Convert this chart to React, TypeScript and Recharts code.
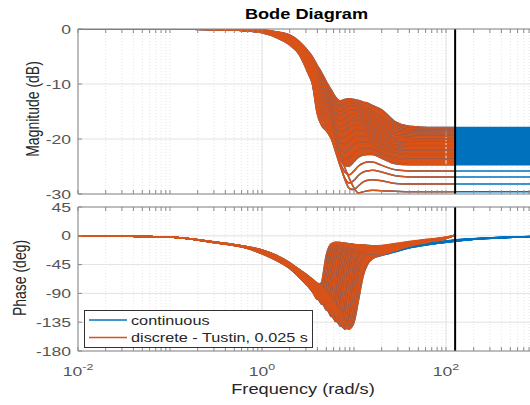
import React from 'react';
import { ComposedChart, Line, Area, XAxis, YAxis, CartesianGrid, ReferenceLine, Legend } from 'recharts';

// frequency grid in rad/s (shared by every curve)
const FREQ = [0.01, 0.0316, 0.1, 0.316, 0.631, 1, 1.41, 2, 2.51, 3.16, 3.55, 3.98, 4.47, 5.01, 5.62, 6.31, 7.08, 7.94, 8.91, 10, 11.2, 12.6, 14.1, 15.8, 20, 28.2, 39.8, 63.1, 100, 125.66, 200, 398, 1000];
const NYQUIST = 125.66; // pi / 0.025

// magnitude (dB), one row per model of the family
const MAG_CURVES = [
  [0, 0, 0, -0.05, -0.1, -0.2, -0.5, -1.1, -2.2, -4.0, -5.1, -6.6, -8.0, -9.6, -11.0, -12.4, -13.1, -12.8, -12.7, -12.8, -13.0, -13.3, -13.5, -13.9, -14.7, -16.9, -17.7, -17.9, -17.9, -17.9, -17.9, -17.9, -17.9],
  [0, 0, 0, -0.05, -0.1, -0.2, -0.55, -1.2, -2.4, -4.3, -5.5, -7.2, -8.8, -10.5, -12.0, -13.4, -14.0, -13.6, -13.3, -13.4, -13.7, -14.1, -14.5, -15.0, -16.1, -17.5, -18.1, -18.2, -18.2, -18.2, -18.2, -18.2, -18.2],
  [0, 0, 0, -0.05, -0.15, -0.25, -0.6, -1.3, -2.6, -4.6, -5.9, -7.8, -9.5, -11.3, -12.9, -14.3, -14.9, -14.4, -14.0, -14.0, -14.3, -14.8, -15.3, -15.9, -17.0, -18.1, -18.5, -18.6, -18.6, -18.6, -18.6, -18.6, -18.6],
  [0, 0, 0, -0.05, -0.15, -0.3, -0.7, -1.45, -2.8, -4.9, -6.3, -8.4, -10.2, -12.1, -13.8, -15.2, -15.8, -15.3, -14.8, -14.7, -15.0, -15.5, -16.1, -16.7, -17.8, -18.7, -18.9, -19.0, -19.0, -19.0, -19.0, -19.0, -19.0],
  [0, 0, 0, -0.05, -0.15, -0.3, -0.75, -1.55, -3.0, -5.2, -6.7, -9.0, -10.9, -12.9, -14.7, -16.1, -16.8, -16.3, -15.7, -15.5, -15.7, -16.2, -16.8, -17.4, -18.5, -19.2, -19.4, -19.5, -19.5, -19.5, -19.5, -19.5, -19.5],
  [0, 0, 0, -0.05, -0.15, -0.35, -0.8, -1.7, -3.1, -5.5, -7.1, -9.6, -11.6, -13.7, -15.6, -17.1, -17.8, -17.4, -16.7, -16.4, -16.5, -16.9, -17.4, -18.0, -19.1, -19.8, -19.9, -20.0, -20.0, -20.0, -20.0, -20.0, -20.0],
  [0, 0, 0, -0.05, -0.2, -0.35, -0.85, -1.8, -3.3, -5.8, -7.5, -10.2, -12.3, -14.4, -16.4, -18.0, -18.8, -18.5, -17.8, -17.4, -17.4, -17.7, -18.2, -18.7, -19.8, -20.4, -20.6, -20.6, -20.6, -20.6, -20.6, -20.6, -20.6],
  [0, 0, 0, -0.05, -0.2, -0.4, -0.9, -1.95, -3.5, -6.1, -7.9, -10.8, -13.0, -15.0, -17.1, -18.9, -19.8, -19.7, -19.0, -18.5, -18.3, -18.5, -18.9, -19.4, -20.5, -21.1, -21.3, -21.3, -21.3, -21.3, -21.3, -21.3, -21.3],
  [0, 0, 0, -0.05, -0.2, -0.4, -1.0, -2.1, -3.6, -6.3, -8.3, -11.4, -13.7, -15.6, -17.7, -19.7, -20.8, -21.0, -20.4, -19.7, -19.4, -19.4, -19.7, -20.1, -21.1, -21.8, -22.0, -22.0, -22.0, -22.0, -22.0, -22.0, -22.0],
  [0, 0, 0, -0.1, -0.2, -0.45, -1.05, -2.2, -3.8, -6.6, -8.7, -12.0, -14.4, -16.2, -18.3, -20.5, -21.9, -22.3, -21.8, -21.0, -20.6, -20.5, -20.6, -20.9, -21.8, -22.6, -22.8, -22.8, -22.8, -22.8, -22.8, -22.8, -22.8],
  [0, 0, 0, -0.1, -0.25, -0.5, -1.1, -2.35, -3.9, -6.8, -9.0, -12.6, -15.0, -16.7, -18.8, -21.2, -22.9, -23.6, -23.3, -22.5, -21.9, -21.6, -21.6, -21.8, -22.6, -23.5, -23.7, -23.7, -23.7, -23.7, -23.7, -23.7, -23.7],
  [0, 0, 0, -0.1, -0.25, -0.55, -1.2, -2.45, -4.0, -7.1, -9.3, -13.2, -15.7, -17.1, -19.2, -21.6, -23.6, -24.8, -24.9, -24.1, -23.3, -22.9, -22.8, -22.8, -23.5, -24.5, -24.7, -24.7, -24.7, -24.7, -24.7, -24.7, -24.7],
  [0, 0, 0, -0.1, -0.25, -0.6, -1.3, -2.6, -4.2, -7.4, -9.6, -13.8, -16.3, -17.5, -19.5, -22.0, -24.3, -26.0, -26.5, -25.8, -24.9, -24.4, -24.2, -24.2, -24.8, -25.6, -25.8, -25.8, -25.8, -25.8, -25.8, -25.8, -25.8],
  [0, 0, 0, -0.1, -0.3, -0.6, -1.35, -2.7, -4.3, -7.6, -9.8, -14.4, -16.9, -17.9, -19.7, -22.3, -24.9, -27.1, -28.0, -27.5, -26.6, -26.0, -25.8, -25.7, -26.0, -26.7, -26.9, -26.9, -26.9, -26.9, -26.9, -26.9, -26.9],
  [0, 0, 0, -0.1, -0.3, -0.65, -1.4, -2.8, -4.4, -7.8, -10.0, -14.9, -17.3, -18.2, -19.8, -22.0, -24.6, -27.3, -29.0, -29.2, -28.5, -27.8, -27.5, -27.4, -27.6, -28.1, -28.2, -28.2, -28.2, -28.2, -28.2, -28.2, -28.2],
  [0, 0, 0, -0.1, -0.3, -0.7, -1.5, -2.9, -4.5, -8.0, -10.2, -15.4, -17.6, -18.5, -19.8, -21.6, -23.3, -25.2, -27.2, -28.9, -29.8, -29.6, -29.4, -29.3, -29.4, -29.5, -29.6, -29.6, -29.6, -29.6, -29.6, -29.6, -29.6],
];
// the upper models sit so close together that they read as one solid band
const MAG_DENSE = 12;

// phase (deg) of the continuous models
const PHASE_CURVES = [
  [0, -0.5, -2, -11, -18, -28, -38, -51, -64, -79, -88, -97, -72, -30, -13, -10, -10.5, -11.5, -12.5, -13.5, -14, -14.5, -15, -15.5, -16, -14, -12, -10, -8, -6.5, -4.5, -2.5, -1],
  [0, -0.5, -2, -11, -18, -27.5, -37.5, -50.5, -63, -78, -87, -99, -85, -45, -17, -11, -11, -12, -13, -14, -14.5, -15, -15.5, -16, -16.5, -14.5, -12.5, -10.3, -8.2, -6.7, -4.6, -2.5, -1],
  [0, -0.5, -2, -11, -17.8, -27, -37, -50, -62, -77, -86, -95, -104, -70, -25, -12.5, -11.5, -12, -13, -14.5, -15.5, -16, -16.5, -17, -17.5, -15.5, -13.3, -10.8, -8.4, -6.9, -4.7, -2.6, -1],
  [0, -0.5, -2, -10.9, -17.6, -26.5, -36.5, -49.5, -61, -76, -85, -94, -107, -88, -40, -15, -12, -12.5, -13.5, -15, -16, -16.8, -17.3, -18, -18.5, -16.3, -13.8, -11.1, -8.6, -7, -4.8, -2.6, -1],
  [0, -0.5, -2, -10.8, -17.4, -26, -36, -49, -60.5, -75, -84, -92, -102, -112, -70, -22, -13, -13, -14, -15.5, -16.5, -17.5, -18.2, -19, -19.5, -17, -14.3, -11.4, -8.8, -7.1, -4.9, -2.7, -1],
  [0, -0.5, -2, -10.7, -17.3, -25.5, -35, -48, -60, -74, -82, -90, -100, -116, -92, -35, -15, -13.5, -14.5, -16, -17.5, -18.5, -19.2, -20, -20.5, -17.8, -14.9, -11.8, -9, -7.3, -5, -2.7, -1.1],
  [0, -0.5, -2, -10.6, -17.2, -25, -34.5, -47.5, -59, -73, -80, -88, -97, -108, -122, -80, -25, -14.5, -15, -16.5, -18, -19.3, -20.2, -21, -21.5, -18.5, -15.4, -12.1, -9.2, -7.5, -5.1, -2.8, -1.1],
  [0, -0.5, -2, -10.5, -17, -24.6, -34, -47, -58, -71, -79, -86, -95, -106, -126, -105, -45, -17, -15.5, -17, -18.5, -20, -21, -22, -22.5, -19.3, -16, -12.5, -9.4, -7.7, -5.2, -2.8, -1.1],
  [0, -0.5, -2, -10.4, -16.9, -24.2, -33.5, -46, -57, -70, -77, -84, -93, -104, -117, -131, -85, -30, -17, -17.5, -19, -20.5, -21.8, -23, -23.5, -20, -16.5, -12.8, -9.5, -7.8, -5.2, -2.8, -1.1],
  [0, -0.5, -2, -10.3, -16.7, -23.8, -33, -45.5, -56, -69, -76, -83, -91, -101, -115, -134, -110, -50, -20, -18, -19.5, -21, -22.5, -24, -24.5, -20.8, -17, -13, -9.6, -8, -5.3, -2.9, -1.2],
  [0, -0.5, -2, -10.2, -16.6, -23.5, -32.5, -45, -55, -68, -74, -81, -89, -98, -111, -124, -138, -95, -35, -20, -20, -21.5, -23, -25, -25.5, -21.5, -17.5, -13.2, -9.7, -8.1, -5.3, -2.9, -1.2],
  [0, -0.5, -2, -10.2, -16.5, -23.2, -32, -44.5, -54, -67, -73, -79, -87, -96, -108, -122, -141, -120, -55, -24, -21, -22, -23.5, -25.5, -26.5, -22.3, -18, -13.4, -9.8, -8.2, -5.4, -2.9, -1.2],
  [0, -0.5, -2, -10.1, -16.3, -22.9, -31.5, -43.8, -53.5, -65, -71, -77, -85, -94, -105, -118, -131, -144, -110, -45, -25, -23, -24, -26, -27.5, -23, -18.3, -13.6, -9.9, -8.3, -5.4, -3, -1.2],
  [0, -0.5, -2, -10, -16.2, -22.6, -31, -43.3, -53, -64, -70, -76, -83, -92, -102, -115, -129, -146, -130, -70, -32, -26, -25.5, -27, -28.5, -23.8, -18.6, -13.8, -9.9, -8.4, -5.5, -3, -1.2],
  [0, -0.5, -2, -10, -16.1, -22.3, -30.5, -42.6, -52.5, -63, -69, -75, -81, -90, -99, -111, -125, -138, -146, -115, -55, -32, -28, -28, -29.5, -24.4, -18.8, -13.9, -10, -8.5, -5.5, -3, -1.2],
  [0, -0.5, -2, -10, -16, -22, -30, -42, -52, -62, -68, -74, -80, -88, -97, -108, -120, -133, -145, -135, -100, -62, -44, -36, -31, -25, -19, -14, -10, -8.5, -5.5, -3, -1.3],
];

// Tustin phase from 20 rad/s up to the Nyquist frequency (lower part equals continuous)
const TAIL_START = 24;
const PHASE_TUSTIN_TAIL = [
  [-15, -12, -9, -5.5, -2, 1],
  [-15.5, -12.5, -9.4, -5.8, -2.2, 1],
  [-16.5, -13.5, -10, -6.1, -2.3, 1],
  [-17.5, -14.2, -10.5, -6.4, -2.5, 1],
  [-18.5, -15, -11, -6.7, -2.7, 1],
  [-19.5, -15.8, -11.5, -7, -2.8, 1],
  [-20.5, -16.5, -12, -7.3, -3, 1],
  [-21.5, -17.3, -12.5, -7.7, -3.2, 1],
  [-22.5, -18, -13, -8, -3.3, 1],
  [-23.5, -18.8, -13.5, -8.3, -3.5, 1],
  [-24.5, -19.5, -14, -8.6, -3.7, 1],
  [-25.5, -20.3, -14.5, -9, -3.8, 1],
  [-26.5, -21, -15, -9.3, -4, 1],
  [-27.5, -21.8, -15.5, -9.6, -4.2, 1],
  [-28.5, -22.5, -15.8, -9.8, -4.4, 1],
  [-30, -23, -16, -10, -4.5, 1],
];

const MAG_TICKS = [-30, -20, -10, 0];
const PHASE_TICKS = [-180, -135, -90, -45, 0, 45];
const DECADES = [0.01, 0.1, 1, 10, 100];
const MINOR_STEPS = [1, 2, 3, 4, 5, 6, 7, 8, 9];
const LABELED_DECADES = [0.01, 1, 100];
const LEGEND_LABELS = ['continuous', 'discrete - Tustin, 0.025 s'];

const X_TICKS = DECADES.flatMap((d) => MINOR_STEPS.map((m) => Number((m * d).toPrecision(2)))).concat([1000]);

const BLUE = '#0072bd';
const ORANGE = '#d95319';
const AXIS = '#8a8a8a';
const TICK_TEXT = '#555555';
const GRID = '#e2e2e2';
const FONT = 'Liberation Sans, Arial, Helvetica, sans-serif';
const SX = 1.3; // the figure is stretched sideways
const LINE_W = 1.5;

const spread = (vals: number[]) => [Math.min(...vals), Math.max(...vals)];

const magData = FREQ.map((f, i) => {
  const row: any = { f };
  MAG_CURVES.forEach((c, k) => {
    row['c' + k] = c[i];
    row['d' + k] = f <= NYQUIST ? c[i] : null;
  });
  row.bandC = spread(MAG_CURVES.slice(0, MAG_DENSE).map((c) => c[i]));
  row.bandD = f <= NYQUIST ? row.bandC : null;
  return row;
});

const phaseData = FREQ.map((f, i) => {
  const row: any = { f };
  const disc: number[] = [];
  PHASE_CURVES.forEach((c, k) => {
    row['c' + k] = c[i];
    if (f > NYQUIST) row['d' + k] = null;
    else {
      row['d' + k] = i < TAIL_START ? c[i] : PHASE_TUSTIN_TAIL[k][i - TAIL_START];
      disc.push(row['d' + k]);
    }
  });
  row.bandC = spread(PHASE_CURVES.map((c) => c[i]));
  row.bandD = f <= NYQUIST ? spread(disc) : null;
  return row;
});

const isLabeled = (v: number) => LABELED_DECADES.some((d) => Math.abs(d - v) < d * 1e-6);

const BottomTick = (props: any) => {
  const { x, y, payload, showLabel } = props;
  const v = payload.value;
  return (
    <g>
      <line x1={x} y1={y} x2={x} y2={y - 4} stroke={AXIS} />
      {showLabel && isLabeled(v) && (
        <text transform={`translate(${x},${y + 25}) scale(${SX},1)`} textAnchor="middle" fontSize={13.5} fill={TICK_TEXT} fontFamily={FONT}>
          10<tspan dy={-6} fontSize={9.5}>{Math.round(Math.log10(v))}</tspan>
        </text>
      )}
    </g>
  );
};

const TopTick = (props: any) => {
  const { x, y } = props;
  return <line x1={x} y1={y} x2={x} y2={y + 4} stroke={AXIS} />;
};

const LeftTick = (props: any) => {
  const { x, y, payload } = props;
  return (
    <g>
      <line x1={x} y1={y} x2={x + 4} y2={y} stroke={AXIS} />
      <text transform={`translate(${x - 7},${y + 4.5}) scale(${SX},1)`} textAnchor="end" fontSize={13.5} fill={TICK_TEXT} fontFamily={FONT}>
        {payload.value}
      </text>
    </g>
  );
};

const SideLabel = ({ text, x, y }: { text: string; x: number; y: number }) => (
  <text transform={`translate(${x},${y}) scale(${SX},1) rotate(-90)`} textAnchor="middle" fontSize={14} fill="#262626" fontFamily={FONT}>
    {text}
  </text>
);

const PlainLabel = ({ text, x, y, bold }: { text: string; x: number; y: number; bold?: boolean }) => (
  <text transform={`translate(${x},${y}) scale(${SX},1)`} textAnchor="middle" fontSize={14} fontWeight={bold ? 'bold' : 'normal'} fill={bold ? '#000' : '#262626'} fontFamily={FONT}>
    {text}
  </text>
);

const LegendBox = () => (
  <svg width={229} height={38} style={{ display: 'block' }}>
    <rect x={0.5} y={0.5} width={228} height={37} fill="#fff" stroke="#333" />
    <line x1={5} y1={10} x2={43} y2={10} stroke={BLUE} strokeWidth={1.5} />
    <line x1={5} y1={27.5} x2={43} y2={27.5} stroke={ORANGE} strokeWidth={1.5} />
    <text transform={`translate(47,14.5) scale(${SX},1)`} fontSize={12.5} fill="#262626" fontFamily={FONT}>{LEGEND_LABELS[0]}</text>
    <text transform={`translate(47,32) scale(${SX},1)`} fontSize={12.5} fill="#262626" fontFamily={FONT}>{LEGEND_LABELS[1]}</text>
  </svg>
);

const family = (count: number, prefix: string, color: string, band: string) => [
  <Area key={band} dataKey={band} type="monotone" fill={color} fillOpacity={1} stroke="none" isAnimationActive={false} />,
  ...Array.from({ length: count }, (_, k) => (
    <Line key={prefix + k} dataKey={prefix + k} type="monotone" stroke={color} strokeWidth={LINE_W} dot={false} isAnimationActive={false} />
  )),
];

const CHART_W = 548;
const X_DOMAIN = [0.01, 1000];

const App = () => {
  return (
    <div style={{ position: 'absolute', left: 0, top: 0, width: 530, height: 405, overflow: 'hidden', background: '#fff' }}>
      <div style={{ position: 'absolute', left: 0, top: 0 }}>
        <ComposedChart width={CHART_W} height={200} data={magData} margin={{ top: 28, right: 10, bottom: 5, left: 8 }}>
          <CartesianGrid vertical={false} stroke={GRID} />
          <CartesianGrid horizontal={false} stroke="#e6e6e6" strokeDasharray="1 2" />
          {LABELED_DECADES.map((d) => (
            <ReferenceLine key={d} x={d} stroke={GRID} />
          ))}
          <XAxis dataKey="f" type="number" scale="log" domain={X_DOMAIN} allowDataOverflow ticks={X_TICKS} interval={0} height={1} tickSize={0} tickMargin={0} stroke={AXIS} tick={<BottomTick showLabel={false} />} />
          <XAxis xAxisId="top" orientation="top" dataKey="f" type="number" scale="log" domain={X_DOMAIN} allowDataOverflow ticks={X_TICKS} interval={0} height={1} tickSize={0} tickMargin={0} stroke={AXIS} tick={<TopTick />}
            label={{ content: () => <PlainLabel text="Bode Diagram" x={306.5} y={19} bold /> }} />
          <YAxis type="number" domain={[-30, 0]} ticks={MAG_TICKS} interval={0} width={70} tickSize={0} tickMargin={0} stroke={AXIS} tick={<LeftTick />} allowDataOverflow
            label={{ content: () => <SideLabel text="Magnitude (dB)" x={38.5} y={109} /> }} />
          {family(MAG_CURVES.length, 'c', BLUE, 'bandC')}
          {family(MAG_CURVES.length, 'd', ORANGE, 'bandD')}
          <ReferenceLine x={NYQUIST} stroke="#000" strokeWidth={2} />
        </ComposedChart>
      </div>
      <div style={{ position: 'absolute', left: 0, top: 195 }}>
        <ComposedChart width={CHART_W} height={210} data={phaseData} margin={{ top: 11, right: 10, bottom: 53, left: 8 }}>
          <CartesianGrid vertical={false} stroke={GRID} />
          <CartesianGrid horizontal={false} stroke="#e6e6e6" strokeDasharray="1 2" />
          {LABELED_DECADES.map((d) => (
            <ReferenceLine key={d} x={d} stroke={GRID} />
          ))}
          <XAxis dataKey="f" type="number" scale="log" domain={X_DOMAIN} allowDataOverflow ticks={X_TICKS} interval={0} height={1} tickSize={0} tickMargin={0} stroke={AXIS} tick={<BottomTick showLabel />}
            label={{ content: () => <PlainLabel text="Frequency  (rad/s)" x={303} y={199} /> }} />
          <XAxis xAxisId="top" orientation="top" dataKey="f" type="number" scale="log" domain={X_DOMAIN} allowDataOverflow ticks={X_TICKS} interval={0} height={1} tickSize={0} tickMargin={0} stroke={AXIS} tick={<TopTick />} />
          <YAxis type="number" domain={[-180, 45]} ticks={PHASE_TICKS} interval={0} width={70} tickSize={0} tickMargin={0} stroke={AXIS} tick={<LeftTick />} allowDataOverflow
            label={{ content: () => <SideLabel text="Phase (deg)" x={26} y={83} /> }} />
          {family(PHASE_CURVES.length, 'c', BLUE, 'bandC')}
          {family(PHASE_CURVES.length, 'd', ORANGE, 'bandD')}
          <ReferenceLine x={NYQUIST} stroke="#000" strokeWidth={2} />
          <Legend layout="vertical" align="center" verticalAlign="middle" content={() => <LegendBox />}
            wrapperStyle={{ position: 'absolute', left: 84, top: 115, width: 229, height: 38 }} />
        </ComposedChart>
      </div>
    </div>
  );
};

export default App;
